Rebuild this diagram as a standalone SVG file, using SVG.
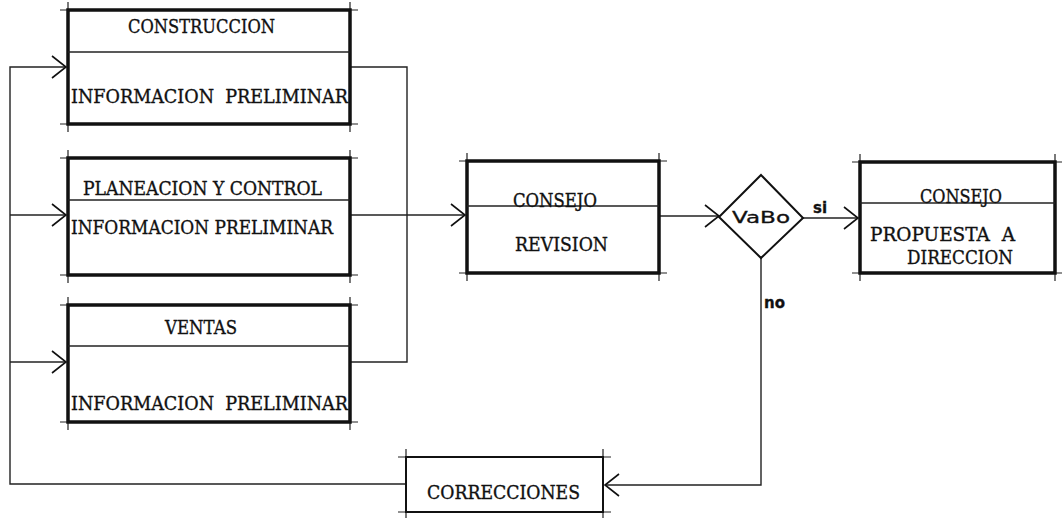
<svg xmlns="http://www.w3.org/2000/svg" width="1064" height="518" viewBox="0 0 1064 518">
<defs>
<style>
.box{fill:none;stroke:#111;stroke-width:3.5}
.thin{fill:none;stroke:#111;stroke-width:2}
.tick{fill:none;stroke:#222;stroke-width:1.2}
.div{fill:none;stroke:#222;stroke-width:1.3}
.con{fill:none;stroke:#222;stroke-width:1.4}
.t{font-family:"DejaVu Serif","Liberation Serif",serif;font-size:18.5px;fill:#111;stroke:#111;stroke-width:0.35;white-space:pre}
.s{font-family:"DejaVu Sans","Liberation Sans",sans-serif;font-size:15px;fill:#111;stroke:#111;stroke-width:0.3}
</style>
<marker id="arr" markerUnits="userSpaceOnUse" markerWidth="20" markerHeight="24" viewBox="-16 -12 20 24" refX="0" refY="0" orient="auto">
<path d="M-14,-11 L0,0 L-14,11" fill="none" stroke="#111" stroke-width="1.6"/>
</marker>
</defs>
<rect width="1064" height="518" fill="#fff"/>

<g id="connectors">
<path class="con" d="M406,484 H10 V67 H66" marker-end="url(#arr)"/>
<path class="con" d="M10,215 H66" marker-end="url(#arr)"/>
<path class="con" d="M10,362 H66" marker-end="url(#arr)"/>
<path class="con" d="M350,67 H407 V362 H350"/>
<path class="con" d="M350,215 H465" marker-end="url(#arr)"/>
<path class="con" d="M659,216 H719" marker-end="url(#arr)"/>
<path class="con" d="M803,218 H858" marker-end="url(#arr)"/>
<path class="con" d="M761,258 V485 H605" marker-end="url(#arr)"/>
<text class="s" x="813" y="213" font-weight="bold" font-size="14">si</text>
<text class="s" x="764" y="308" font-weight="bold" font-size="14">no</text>
</g>

<g id="construccion">
<path class="tick" d="M60,10 H358 M60,124 H358 M68,2 V132 M350,2 V132"/>
<rect class="box" x="68" y="10" width="282" height="114"/>
<line class="div" x1="68" y1="52" x2="350" y2="52"/>
<text class="t" x="128" y="33" textLength="147" lengthAdjust="spacingAndGlyphs">CONSTRUCCION</text>
<text class="t" x="71" y="103" textLength="277" lengthAdjust="spacingAndGlyphs" xml:space="preserve">INFORMACION  PRELIMINAR</text>
</g>

<g id="planeacion">
<path class="tick" d="M60,158 H358 M60,275 H358 M68,150 V283 M350,150 V283"/>
<rect class="box" x="68" y="158" width="282" height="117"/>
<line class="div" x1="68" y1="200" x2="350" y2="200"/>
<text class="t" x="83" y="195" textLength="239" lengthAdjust="spacingAndGlyphs">PLANEACION Y CONTROL</text>
<text class="t" x="71" y="234" textLength="262" lengthAdjust="spacingAndGlyphs">INFORMACION PRELIMINAR</text>
</g>

<g id="ventas">
<path class="tick" d="M60,305 H358 M60,422 H358 M68,297 V430 M350,297 V430"/>
<rect class="box" x="68" y="305" width="282" height="117"/>
<line class="div" x1="68" y1="346" x2="350" y2="346"/>
<text class="t" x="165" y="334" textLength="72" lengthAdjust="spacingAndGlyphs">VENTAS</text>
<text class="t" x="71" y="410" textLength="277" lengthAdjust="spacingAndGlyphs" xml:space="preserve">INFORMACION  PRELIMINAR</text>
</g>

<g id="consejo-revision">
<path class="tick" d="M459,161 H667 M459,273 H667 M467,153 V281 M659,153 V281"/>
<rect class="box" x="467" y="161" width="192" height="112"/>
<line class="div" x1="467" y1="206" x2="659" y2="206"/>
<text class="t" x="513" y="207" textLength="84" lengthAdjust="spacingAndGlyphs">CONSEJO</text>
<text class="t" x="515" y="251" textLength="93" lengthAdjust="spacingAndGlyphs">REVISION</text>
</g>

<g id="vabo">
<polygon class="thin" points="761,175 803,218 761,258 719,217" stroke-width="2.4"/>
<text class="s" x="732" y="223" textLength="58" lengthAdjust="spacingAndGlyphs">VaBo</text>
</g>

<g id="consejo-propuesta">
<path class="tick" d="M852,162 H1062 M852,273 H1062 M860,154 V281 M1055,154 V281"/>
<rect class="box" x="860" y="162" width="195" height="111"/>
<line class="div" x1="860" y1="203" x2="1055" y2="203"/>
<text class="t" x="920" y="203" textLength="82" lengthAdjust="spacingAndGlyphs">CONSEJO</text>
<text class="t" x="870" y="241" textLength="145" lengthAdjust="spacingAndGlyphs" xml:space="preserve">PROPUESTA  A</text>
<text class="t" x="907" y="264" textLength="106" lengthAdjust="spacingAndGlyphs">DIRECCION</text>
</g>

<g id="correcciones">
<path class="tick" d="M398,457 H611 M398,512 H611 M406,449 V518 M603,449 V518"/>
<rect class="thin" x="406" y="457" width="197" height="55"/>
<text class="t" x="427" y="499" textLength="153" lengthAdjust="spacingAndGlyphs">CORRECCIONES</text>
</g>
</svg>
